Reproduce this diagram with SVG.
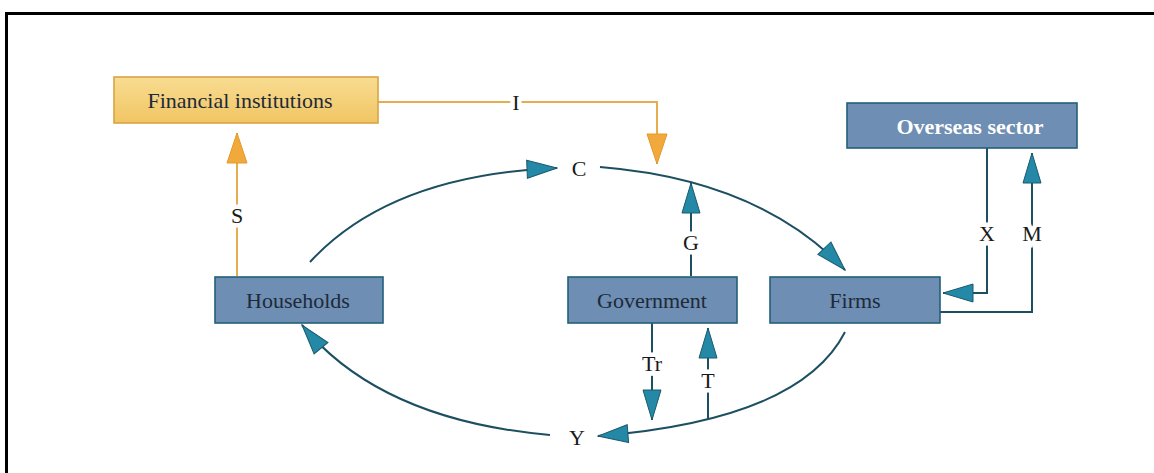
<svg xmlns="http://www.w3.org/2000/svg" width="1154" height="473" viewBox="0 0 1154 473">
  <style>
    .box-blue { fill: #6e8eb3; stroke: #22607a; stroke-width: 1.6; }
    .box-gold { fill: url(#gold); stroke: #d9a444; stroke-width: 1.6; }
    .name { font-family: "Liberation Serif", "Times New Roman", serif; font-size: 22px; text-anchor: middle; dominant-baseline: central; fill: #1d2a3a; }
    .name-bold { font-family: "Liberation Serif", "Times New Roman", serif; font-size: 22px; font-weight: bold; text-anchor: middle; dominant-baseline: central; fill: #ffffff; }
    .flow { fill: none; stroke: #1c4f60; stroke-width: 2; }
    .flow-gold { fill: none; stroke: #e6ad4f; stroke-width: 2; }
    .lbl { font-family: "Liberation Serif", "Times New Roman", serif; font-size: 22px; text-anchor: middle; dominant-baseline: central; fill: #1a1a1a; stroke: #ffffff; stroke-width: 9; paint-order: stroke; }
  </style>
  <defs>
    <linearGradient id="gold" x1="0" y1="0" x2="0" y2="1">
      <stop offset="0" stop-color="#f8dc92"/>
      <stop offset="1" stop-color="#f1c563"/>
    </linearGradient>
    <marker id="arrow-blue" markerUnits="userSpaceOnUse" markerWidth="32" markerHeight="20" refX="31" refY="10" orient="auto" viewBox="0 0 32 20">
      <path d="M1,1 L31,10 L1,19 Z" fill="#2389a7" stroke="#1b5a6d" stroke-width="1"/>
    </marker>
    <marker id="arrow-gold" markerUnits="userSpaceOnUse" markerWidth="32" markerHeight="22" refX="31" refY="11" orient="auto" viewBox="0 0 32 22">
      <path d="M1,1 L31,11 L1,21 Z" fill="#f2a93b" stroke="#e39a2c" stroke-width="1"/>
    </marker>
  </defs>

  <rect width="1154" height="473" fill="#ffffff"/>
  <!-- page frame -->
  <path d="M6.5,473 V13.5 H1154" fill="none" stroke="#000000" stroke-width="3"/>

  <!-- flows between sectors -->
  <g id="connectors">
    <!-- circular flow -->
    <path class="flow" d="M310,262 Q390,175 557,168" marker-end="url(#arrow-blue)"/>
    <path class="flow" d="M600,167 Q760,180 845,270" marker-end="url(#arrow-blue)"/>
    <path class="flow" d="M845,332 Q800,420 598,436" marker-end="url(#arrow-blue)"/>
    <path class="flow" d="M550,435 Q380,420 302,325" marker-end="url(#arrow-blue)"/>
    <!-- government -->
    <path class="flow" d="M691,276 V183" marker-end="url(#arrow-blue)"/>
    <path class="flow" d="M652,323 V420" marker-end="url(#arrow-blue)"/>
    <path class="flow" d="M708,419 V328" marker-end="url(#arrow-blue)"/>
    <!-- overseas -->
    <path class="flow" d="M987,148 V293 H943" marker-end="url(#arrow-blue)"/>
    <path class="flow" d="M940,312 H1032 V153" marker-end="url(#arrow-blue)"/>
    <!-- savings and investment -->
    <path class="flow-gold" d="M237,276 V133" marker-end="url(#arrow-gold)"/>
    <path class="flow-gold" d="M378,102 H657 V164" marker-end="url(#arrow-gold)"/>

    <text class="lbl" x="516" y="102">I</text>
    <text class="lbl" x="237" y="215">S</text>
    <text class="lbl" x="579" y="168">C</text>
    <text class="lbl" x="691" y="242">G</text>
    <text class="lbl" x="652" y="363">Tr</text>
    <text class="lbl" x="708" y="380">T</text>
    <text class="lbl" x="577" y="437">Y</text>
    <text class="lbl" x="987" y="233">X</text>
    <text class="lbl" x="1032" y="233">M</text>
  </g>

  <g id="financial-institutions">
    <rect class="box-gold" x="114" y="77" width="264" height="46"/>
    <text class="name" x="240" y="100">Financial institutions</text>
  </g>

  <g id="overseas-sector">
    <rect class="box-blue" x="847" y="103" width="230" height="45"/>
    <text class="name-bold" x="970" y="126">Overseas sector</text>
  </g>

  <g id="households">
    <rect class="box-blue" x="215" y="277" width="168" height="46"/>
    <text class="name" x="298" y="300">Households</text>
  </g>

  <g id="government">
    <rect class="box-blue" x="568" y="277" width="169" height="46"/>
    <text class="name" x="652" y="300">Government</text>
  </g>

  <g id="firms">
    <rect class="box-blue" x="770" y="277" width="170" height="46"/>
    <text class="name" x="855" y="300">Firms</text>
  </g>
</svg>
